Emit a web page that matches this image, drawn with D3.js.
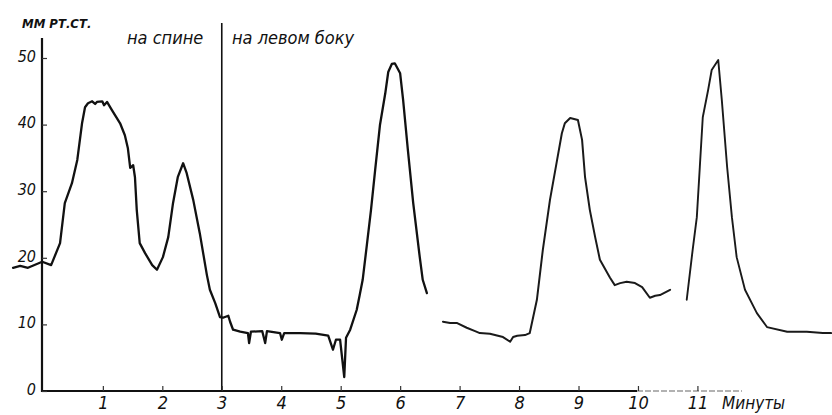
<!DOCTYPE html>
<html>
<head>
<meta charset="utf-8">
<script src="https://cdn.jsdelivr.net/npm/d3@7"></script>
<style>
  html, body { margin: 0; padding: 0; background: #fff; }
  svg { display: block; }
  .lbl { font-family: "Liberation Sans Narrow", "DejaVu Sans Condensed", "Liberation Sans", sans-serif; font-style: italic; fill: #111; }
</style>
</head>
<body>
<svg id="chart" width="832" height="415"></svg>
<script>
// ---- data ----
const xTickMinutes = [1, 2, 3, 4, 5, 6, 7, 8, 9, 10, 11];
const yTickValues = [0, 10, 20, 30, 40, 50];
const yAxisTitle = "ММ РТ.СТ.";
const xAxisTitle = "Минуты";
const positionLabels = ["на спине", "на левом боку"];
const positionChangeMinute = 3;

// trace segment A (on back, then left side, through 3rd peak)
const segAMinutes = [-0.51, -0.39, -0.26, -0.02, 0.13, 0.28, 0.36, 0.48, 0.57, 0.65, 0.70, 0.75, 0.82, 0.87, 0.90, 0.99, 1.02, 1.07, 1.15, 1.29, 1.37, 1.42, 1.46, 1.51, 1.54, 1.57, 1.62, 1.71, 1.83, 1.91, 2.01, 2.10, 2.18, 2.26, 2.35, 2.41, 2.52, 2.63, 2.75, 2.80, 2.89, 2.97, 3.02, 3.11, 3.14, 3.19, 3.31, 3.44, 3.46, 3.49, 3.68, 3.73, 3.76, 3.98, 4.01, 4.05, 4.32, 4.58, 4.79, 4.87, 4.92, 4.99, 5.06, 5.09, 5.16, 5.27, 5.32, 5.37, 5.44, 5.51, 5.58, 5.66, 5.75, 5.80, 5.86, 5.91, 6.00, 6.05, 6.13, 6.22, 6.33, 6.38, 6.45];
const segAPressure = [18.5, 18.8, 18.5, 19.4, 18.9, 22.2, 28.2, 31.2, 34.7, 40.2, 42.6, 43.2, 43.5, 43.1, 43.4, 43.5, 42.9, 43.4, 42.2, 40.2, 38.4, 36.5, 33.5, 33.9, 32.1, 27.2, 22.2, 20.7, 18.9, 18.2, 20.1, 23.1, 28.2, 32.1, 34.2, 32.7, 28.7, 23.7, 17.4, 15.2, 13.2, 11.1, 11.0, 11.3, 10.4, 9.2, 8.9, 8.7, 7.2, 8.9, 9.0, 7.2, 9.0, 8.7, 7.7, 8.7, 8.7, 8.6, 8.3, 6.2, 7.7, 7.7, 2.1, 8.0, 9.2, 12.2, 14.4, 16.7, 21.9, 27.2, 33.2, 39.9, 44.7, 47.9, 49.1, 49.2, 47.7, 43.7, 36.2, 28.2, 20.1, 16.7, 14.7];

// trace segment B (4th peak)
const segBMinutes = [6.72, 6.84, 6.96, 7.12, 7.26, 7.34, 7.51, 7.73, 7.85, 7.90, 7.97, 8.10, 8.18, 8.30, 8.40, 8.52, 8.64, 8.72, 8.77, 8.86, 8.99, 9.06, 9.11, 9.19, 9.28, 9.36, 9.53, 9.61, 9.70, 9.81, 9.95, 10.07, 10.20, 10.29, 10.37, 10.54];
const segBPressure = [10.4, 10.2, 10.2, 9.5, 9.0, 8.7, 8.6, 8.1, 7.4, 8.1, 8.3, 8.4, 8.7, 13.7, 21.2, 28.7, 34.7, 38.7, 40.2, 41.0, 40.7, 37.7, 32.1, 27.2, 23.1, 19.7, 17.0, 15.9, 16.2, 16.4, 16.2, 15.6, 14.0, 14.3, 14.4, 15.2];

// trace segment C (5th peak and tail)
const segCMinutes = [10.82, 10.92, 10.99, 11.04, 11.09, 11.18, 11.24, 11.35, 11.41, 11.50, 11.58, 11.66, 11.80, 12.00, 12.17, 12.51, 12.84, 13.11, 13.25];
const segCPressure = [13.7, 21.2, 26.1, 33.6, 41.1, 45.2, 48.2, 49.7, 43.7, 33.6, 26.1, 20.1, 15.2, 11.7, 9.6, 8.9, 8.9, 8.7, 8.7];

// ---- drawing ----
const svg = d3.select("#chart");
const x = d3.scaleLinear().domain([0, 13.25]).range([43.4, 831.2]);
const y = d3.scaleLinear().domain([0, 50]).range([391, 58]);
const axisX = 42;

// x axis line (solid then faint dashed)
svg.append("line").attr("x1", axisX - 1).attr("x2", 637).attr("y1", y(0)).attr("y2", y(0))
  .attr("stroke", "#111").attr("stroke-width", 2.2);
svg.append("line").attr("x1", 637).attr("x2", 742).attr("y1", y(0)).attr("y2", y(0))
  .attr("stroke", "#999").attr("stroke-width", 1.3).attr("stroke-dasharray", "6 2");

// y axis line
svg.append("line").attr("x1", axisX).attr("x2", axisX).attr("y1", 38).attr("y2", y(0) + 1)
  .attr("stroke", "#111").attr("stroke-width", 2.2);

// position change vertical line
svg.append("line").attr("x1", x(positionChangeMinute)).attr("x2", x(positionChangeMinute))
  .attr("y1", 23).attr("y2", y(0))
  .attr("stroke", "#111").attr("stroke-width", 1.6);

// x axis ticks + labels
const gx = svg.append("g").attr("transform", `translate(0,${y(0)})`)
  .call(d3.axisBottom(x).tickValues(xTickMinutes).tickFormat(d3.format("d")).tickSize(-5).tickPadding(5));
gx.select(".domain").remove();
gx.selectAll(".tick line").attr("stroke", "#333").attr("stroke-width", 1.2);
gx.selectAll(".tick text").attr("class", "lbl").style("font-size", "18px").attr("fill", "#111");

// y axis ticks + labels
const gy = svg.append("g").attr("transform", `translate(${axisX},0)`)
  .call(d3.axisLeft(y).tickValues(yTickValues).tickFormat(d3.format("d")).tickSize(-5).tickPadding(6));
gy.select(".domain").remove();
gy.selectAll(".tick line").attr("stroke", "#333").attr("stroke-width", 1.2);
gy.selectAll(".tick text").attr("class", "lbl").style("font-size", "16px").attr("fill", "#111")
  .attr("dy", "0.2em");

// titles
svg.append("text").attr("class", "lbl").attr("x", 22).attr("y", 28)
  .style("font-size", "13px").style("font-weight", "bold").text(yAxisTitle);
svg.append("text").attr("class", "lbl").attr("x", 127).attr("y", 44)
  .style("font-size", "18px").text(positionLabels[0]);
svg.append("text").attr("class", "lbl").attr("x", 232).attr("y", 44)
  .style("font-size", "18px").text(positionLabels[1]);
svg.append("text").attr("class", "lbl").attr("x", 722).attr("y", 409)
  .style("font-size", "17px").attr("fill", "#333").text(xAxisTitle);

// traces
const line = d3.line().x(d => x(d[0])).y(d => y(d[1])).curve(d3.curveLinear);
const segs = [
  { m: segAMinutes, p: segAPressure, w: 2.3, c: "#111" },
  { m: segBMinutes, p: segBPressure, w: 2.0, c: "#1a1a1a" },
  { m: segCMinutes, p: segCPressure, w: 1.9, c: "#1a1a1a" }
];
segs.forEach(s => {
  const pts = s.m.map((t, i) => [t, s.p[i]]);
  svg.append("path").datum(pts).attr("d", line)
    .attr("fill", "none").attr("stroke", s.c).attr("stroke-width", s.w)
    .attr("stroke-linejoin", "round").attr("stroke-linecap", "round");
});
</script>
</body>
</html>
